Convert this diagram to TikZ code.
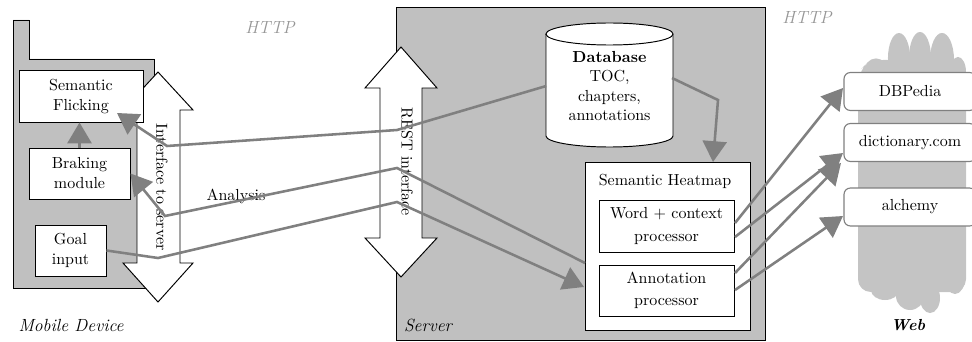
\documentclass[tikz,border=0pt]{standalone}
\usetikzlibrary{arrows.meta,calc}
\definecolor{bgc}{RGB}{192,192,192}
\definecolor{lnc}{RGB}{128,128,128}
\definecolor{cloudc}{RGB}{196,196,196}
\definecolor{httpc}{RGB}{150,150,150}
\begin{document}
\begin{tikzpicture}[x=0.625pt,y=-0.625pt,
  box/.style={draw=black, fill=white, line width=0.6pt, align=center, inner sep=0pt},
  webbox/.style={draw=black!50, fill=white, line width=0.7pt, rounded corners=4pt, minimum width=82.5pt, minimum height=23.75pt, inner sep=0pt},
  conn/.style={draw=lnc, line width=1.6pt, -{Triangle[length=13pt,width=15pt]}},
  lbl/.style={font=\itshape\fontsize{11}{13}\selectfont},
  dblarrow/.style={draw=black, fill=white, line width=0.6pt}]
\useasboundingbox (0,0) rectangle (972,342);
% phone
\filldraw[fill=bgc, draw=black, line width=0.6pt] (13,20) -- (29,20) -- (29,59) -- (154,59) -- (154,288) -- (13,288) -- cycle;
% server
\filldraw[fill=bgc, draw=black, line width=0.6pt] (396,7) rectangle (765,340);
% interface arrow
\filldraw[dblarrow] (158,72) -- (193,110) -- (180,110) -- (180,263) -- (193,263) -- (158,302) -- (123,263) -- (137,263) -- (137,110) -- (123,110) -- cycle;
\node[rotate=-90] (ifs) at (162,187) {Interface to server};
% REST arrow
\filldraw[dblarrow] (401,47) -- (437,88) -- (422,88) -- (422,238) -- (437,238) -- (401,277) -- (365,238) -- (380,238) -- (380,88) -- (365,88) -- cycle;
\node[rotate=-90] (rest) at (407,162) {REST interface};
% phone boxes
\node[box, minimum width=77.5pt, minimum height=31.9pt] (sf) at (81,96.5) {Semantic\\[1pt]Flicking};
\node[box, minimum width=63.1pt, minimum height=31.9pt] (br) at (79.5,173.5) {Braking\\[0.5pt]module};
\node[box, minimum width=44.4pt, minimum height=31.9pt] (gi) at (70.5,250.5) {Goal\\input};
% database cylinder
\filldraw[fill=white, draw=black, line width=0.6pt] (546,34) -- (546,136) arc[start angle=180, end angle=360, x radius=39.69pt, y radius=6.875pt] -- (673,34) arc[start angle=0, end angle=180, x radius=39.69pt, y radius=6.875pt] -- cycle;
\draw[line width=0.6pt] (673,34) arc[start angle=0, end angle=-180, x radius=39.69pt, y radius=6.875pt];
\node[align=center, minimum width=78.75pt, minimum height=77.5pt, inner sep=0pt] (db) at (609.5,86) {\textbf{Database}\\TOC,\\chapters,\\annotations};
% heatmap
\node[box, minimum width=103.1pt, minimum height=105pt] (hm) at (667.5,246) {};
\node (hmt) at (665,181) {Semantic Heatmap};
\node[box, minimum width=84.4pt, minimum height=32.5pt] (wc) at (666.5,226) {Word + context\\[2pt]processor};
\node[box, minimum width=84.4pt, minimum height=31.9pt] (ap) at (666.5,290.5) {Annotation\\[2pt]processor};
% cloud
\fill[cloudc, rounded corners=8pt] (858,72) -- (858,292) -- (966,292) -- (966,60) -- (870,60) -- cycle;
\fill[cloudc] (876,72) ellipse[x radius=7.5pt, y radius=8.5pt];
\fill[cloudc] (899,58) ellipse[x radius=6.9pt, y radius=15.6pt];
\fill[cloudc] (920,58) ellipse[x radius=6.9pt, y radius=16.25pt];
\fill[cloudc] (942,60) ellipse[x radius=7.5pt, y radius=16.9pt];
\fill[cloudc] (958,72) ellipse[x radius=5pt, y radius=9.4pt];
\fill[cloudc] (885,290) ellipse[x radius=8.75pt, y radius=6.25pt];
\fill[cloudc] (910,296) ellipse[x radius=8.75pt, y radius=8.75pt];
\fill[cloudc] (930,298) ellipse[x radius=6.25pt, y radius=9.4pt];
\fill[cloudc] (955,278) ellipse[x radius=6.25pt, y radius=10pt];
% web boxes
\node[webbox] (dbp) at (910,91.5) {DBPedia};
\node[webbox] (dic) at (910,142.5) {dictionary.com};
\node[webbox] (alc) at (910,207) {alchemy};
% labels
\node[lbl, text=httpc] (http1) at (270,27) {HTTP};
\node[lbl, text=httpc] (http2) at (807,17) {HTTP};
\node[lbl] (mob) at (71,325) {Mobile Device};
\node[lbl] (srv) at (428,325) {Server};
\node[lbl, font=\bfseries\itshape\fontsize{10}{12}\selectfont] (web) at (908,325) {Web};
\node (ana) at (236,196) {Analysis};
% coordinates
\coordinate (r1) at (397,130);
\coordinate (l1) at (167,146);
\coordinate (sftip) at (117,113);
\coordinate (hmA) at (585,263);
\coordinate (r2) at (397,168);
\coordinate (l2) at (165,216);
\coordinate (l3) at (158,258);
\coordinate (r3) at (397,202);
\coordinate (hmB) at (584,287);
\coordinate (dbE) at (672,78);
\coordinate (b1) at (718,100);
\coordinate (hmT) at (713,162);
\coordinate (wc1) at (735,223);
\coordinate (wc2) at (735,237);
\coordinate (ap1) at (735,273);
\coordinate (ap2) at (735,290);
\coordinate (dicA) at (843,153);
\coordinate (dicB) at (841,163);
\coordinate (alcA) at (843,216);
\coordinate (dbpA) at (843,88);
% connectors
\draw[conn] (br.north) -- (br.north |- sf.south);
\draw[conn] (db.west) -- (r1) -- (l1) -- (sftip);
\draw[conn] (hmA) -- (r2) -- (l2) -- (br.east);
\draw[conn] (gi.east) -- (l3) -- (r3) -- (hmB);
\draw[conn] (dbE) -- (b1) -- (hmT);
\draw[conn] (wc1) -- (dbpA);
\draw[conn] (wc2) -- (dicA);
\draw[conn] (ap1) -- (dicB);
\draw[conn] (ap2) -- (alcA);
\end{tikzpicture}
\end{document}
